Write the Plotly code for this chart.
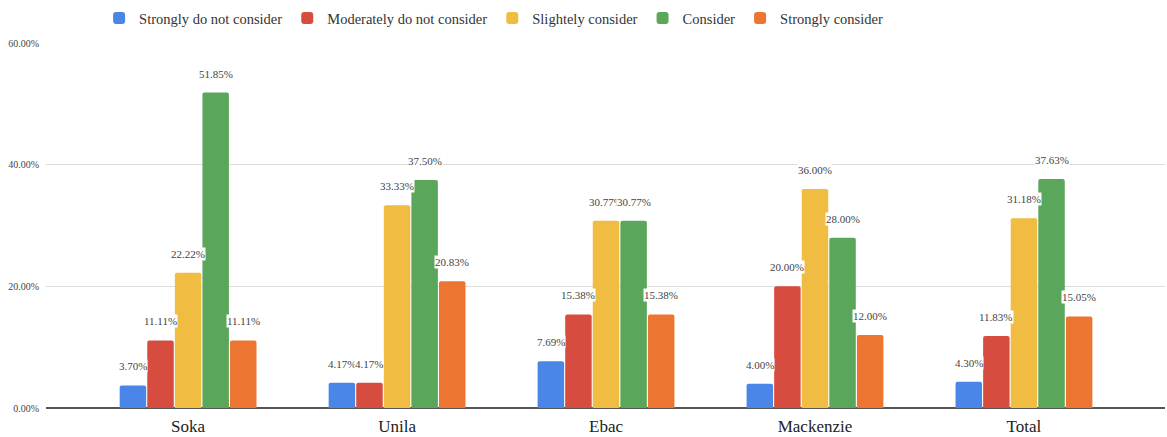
import plotly.graph_objects as go

# Survey responses per institution (percent of respondents)
categories = ["Soka", "Unila", "Ebac", "Mackenzie", "Total"]
series_names = [
    "Strongly do not consider",
    "Moderately do not consider",
    "Slightely consider",
    "Consider",
    "Strongly consider",
]
strongly_not = [3.70, 4.17, 7.69, 4.00, 4.30]
moderately_not = [11.11, 4.17, 15.38, 20.00, 11.83]
slightly = [22.22, 33.33, 30.77, 36.00, 31.18]
consider = [51.85, 37.50, 30.77, 28.00, 37.63]
strongly = [11.11, 20.83, 15.38, 12.00, 15.05]
y_ticks = [0, 20, 40, 60]

series_values = [strongly_not, moderately_not, slightly, consider, strongly]
colors = ["#4A86E8", "#D64C3E", "#F0BC42", "#5AA65B", "#EC7531"]

font_family = "Liberation Serif, Times New Roman, serif"
bargap = 0.34
n_series = len(series_values)
slot = (1 - bargap) / n_series  # width of one bar slot in category units

fig = go.Figure()
for name, vals, color in zip(series_names, series_values, colors):
    fig.add_trace(go.Bar(
        name=name,
        x=categories,
        y=vals,
        marker=dict(color=color, line=dict(width=0), cornerradius=2),
    ))

# Value labels above each bar, with a white backing like the chart's labels
annotations = []
for j, vals in enumerate(series_values):
    for i, v in enumerate(vals):
        annotations.append(dict(
            x=i + (j - (n_series - 1) / 2) * slot,
            y=v,
            xref="x", yref="y",
            text=f"{v:.2f}%",
            showarrow=False,
            yanchor="middle",
            yshift=19,
            bgcolor="white",
            borderpad=0,
            font=dict(family=font_family, size=11, color="#444444"),
        ))

fig.update_layout(
    width=1167,
    height=437,
    margin=dict(l=46, r=2, t=43, b=29),
    paper_bgcolor="white",
    plot_bgcolor="white",
    barmode="group",
    bargap=bargap,
    bargroupgap=0.04,
    font=dict(family=font_family, color="#333333"),
    annotations=annotations,
    legend=dict(
        orientation="h",
        x=0.4, xanchor="center",
        y=1.068, yanchor="middle",
        font=dict(family=font_family, size=14.5, color="#333333"),
        itemwidth=30,
        traceorder="normal",
    ),
    showlegend=True,
)

fig.update_xaxes(
    range=[-0.68, 4.675],
    tickfont=dict(family=font_family, size=17, color="#222222"),
    showgrid=False,
    showline=False,
    ticks="",
    ticklabelstandoff=6,
    automargin=False,
)
fig.update_yaxes(
    range=[0, 60],
    tickvals=y_ticks,
    ticktext=[f"{t:.2f}%" for t in y_ticks],
    tickfont=dict(family=font_family, size=10, color="#444444"),
    showgrid=True,
    gridcolor="#DDDDDD",
    gridwidth=1,
    zeroline=True,
    zerolinecolor="#555555",
    zerolinewidth=1.5,
    ticks="",
    ticklen=0,
    ticklabelstandoff=6,
    automargin=False,
)

fig.write_html("out.html")
